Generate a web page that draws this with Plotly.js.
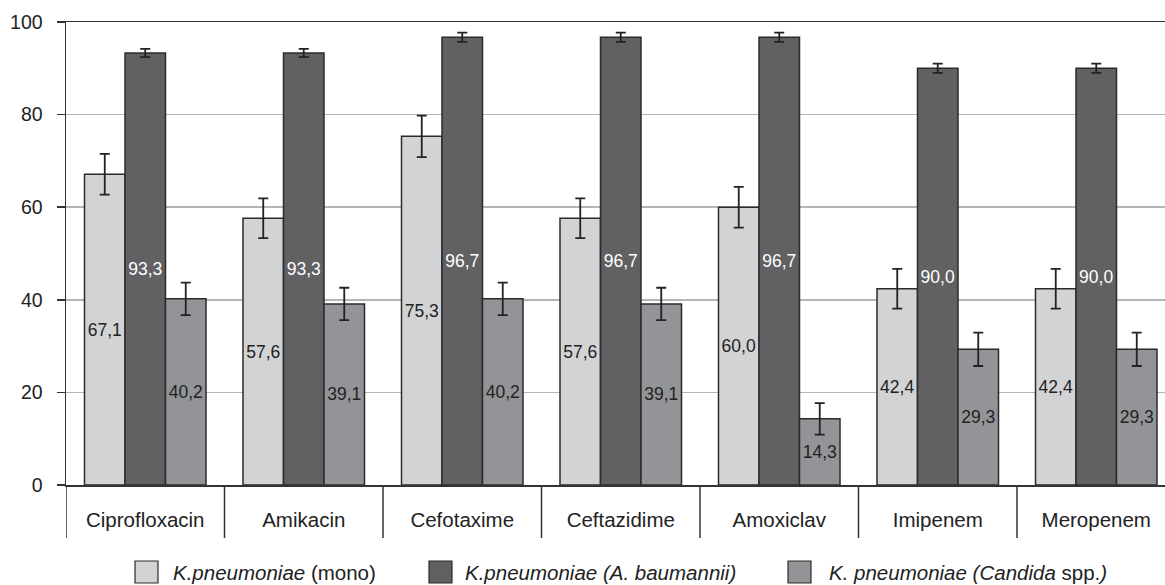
<!DOCTYPE html>
<html>
<head>
<meta charset="utf-8">
<script src="https://cdn.plot.ly/plotly-3.0.1.min.js"></script>
<style>
  html, body { margin: 0; padding: 0; background: #ffffff; }
  #chart { width: 1165px; height: 585px; }
</style>
</head>
<body>
<div id="chart"></div>
<script>
// Antibiotics tested
const antibiotics = ['Ciprofloxacin', 'Amikacin', 'Cefotaxime', 'Ceftazidime', 'Amoxiclav', 'Imipenem', 'Meropenem'];

// Resistance, % (mono-infection and co-infections)
const kpMono      = [67.1, 57.6, 75.3, 57.6, 60.0, 42.4, 42.4];
const kpBaumannii = [93.3, 93.3, 96.7, 96.7, 96.7, 90.0, 90.0];
const kpCandida   = [40.2, 39.1, 40.2, 39.1, 14.3, 29.3, 29.3];

// Error margins, %
const errMono      = [4.4, 4.3, 4.5, 4.3, 4.4, 4.3, 4.3];
const errBaumannii = [0.9, 0.9, 1.0, 1.0, 1.0, 1.0, 1.0];
const errCandida   = [3.5, 3.5, 3.5, 3.5, 3.4, 3.6, 3.6];

// Y-axis ticks
const yTicks = [0, 20, 40, 60, 80, 100];

// Legend entries (rich text)
const legendLabels = [
  '<i>K.pneumoniae</i> (mono)',
  '<i>K.pneumoniae (A. baumannii)</i>',
  '<i>K. pneumoniae (Candida</i> spp.<i>)</i>'
];

const FONT = '"Liberation Sans", Arial, Helvetica, sans-serif';
const INK = '#222222';
const OUTLINE = '#2b2b2b';
const fills = ['#d2d3d5', '#616163', '#939497'];
const labelColors = [INK, '#ffffff', INK];

const fmt = v => v.toFixed(1).replace('.', ',');

function barTrace(values, errors, i) {
  return {
    type: 'bar',
    x: antibiotics,
    y: values,
    name: legendLabels[i],
    showlegend: false,
    marker: { color: fills[i], line: { color: OUTLINE, width: 1.5 } },
    text: values.map(fmt),
    textposition: 'inside',
    insidetextanchor: 'middle',
    constraintext: 'none',
    textangle: 0,
    textfont: { family: FONT, size: 17.5, color: labelColors[i] },
    error_y: { type: 'data', array: errors, visible: true, color: INK, thickness: 1.8, width: 5 },
    hoverinfo: 'x+y'
  };
}

const data = [
  barTrace(kpMono, errMono, 0),
  barTrace(kpBaumannii, errBaumannii, 1),
  barTrace(kpCandida, errCandida, 2)
];

// Plot area geometry (pixels)
const W = 1165, H = 585;
const M = { l: 66, r: 0, t: 22, b: 100 };
const plotW = W - M.l - M.r;
const plotH = H - M.t - M.b;
const groupPx = 158.5;
const px2x = px => (px - M.l) / plotW;
const py2y = py => (H - M.b - py) / plotH;

// Category separators below the axis
const shapes = [];
for (let i = 0; i < antibiotics.length; i++) {
  shapes.push({
    type: 'line', xref: 'x', yref: 'paper',
    x0: i - 0.5, x1: i - 0.5, y0: 0, y1: py2y(538),
    line: { color: '#333333', width: 1.5 }
  });
}

// Legend swatches and labels
const legendSwatchX = [135, 429, 788];
const legendTextX = [171, 463, 827];
const annotations = [];
legendLabels.forEach((lbl, i) => {
  shapes.push({
    type: 'rect', xref: 'paper', yref: 'paper',
    x0: px2x(legendSwatchX[i]), x1: px2x(legendSwatchX[i] + 23),
    y0: py2y(561), y1: py2y(583),
    fillcolor: fills[i], line: { color: OUTLINE, width: 1.2 }
  });
  annotations.push({
    xref: 'paper', yref: 'paper',
    x: px2x(legendTextX[i]), y: py2y(572),
    xanchor: 'left', yanchor: 'middle',
    text: lbl, showarrow: false,
    font: { family: FONT, size: 20.5, color: INK }
  });
});

const layout = {
  width: W, height: H,
  margin: M,
  paper_bgcolor: '#ffffff',
  plot_bgcolor: '#ffffff',
  barmode: 'group',
  bargap: 37 / groupPx,
  bargroupgap: 0,
  showlegend: false,
  font: { family: FONT, color: INK },
  xaxis: {
    type: 'category',
    range: [-0.5, -0.5 + plotW / groupPx],
    showline: true, linecolor: '#333333', linewidth: 1.5,
    mirror: true,
    showgrid: false,
    ticks: 'outside', ticklen: 16, tickcolor: 'rgba(0,0,0,0)',
    tickfont: { family: FONT, size: 20.5, color: INK },
    fixedrange: true
  },
  yaxis: {
    range: [0, 100],
    tickvals: yTicks,
    ticktext: yTicks.map(String),
    showline: true, linecolor: '#333333', linewidth: 1.5,
    showgrid: true, gridcolor: '#b5b5b5', gridwidth: 1.5,
    zeroline: false,
    ticks: 'outside', ticklen: 8, tickcolor: '#333333', tickwidth: 1.5,
    ticklabelstandoff: 10,
    tickfont: { family: FONT, size: 19.5, color: INK },
    fixedrange: true
  },
  shapes: shapes,
  annotations: annotations
};

Plotly.newPlot('chart', data, layout, { displayModeBar: false, staticPlot: true });
</script>
</body>
</html>
